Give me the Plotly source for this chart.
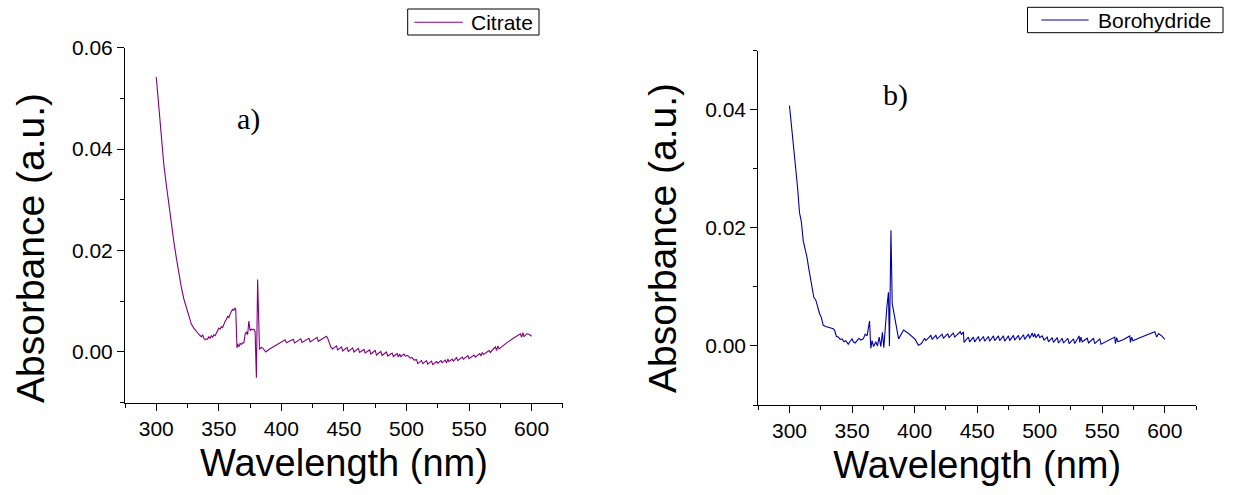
import plotly.graph_objects as go

# ---------------- data ----------------
cit_wl = [300, 302, 304, 306, 308, 310, 312, 314, 316, 318, 320, 322, 324, 326, 328,
          330, 332, 334, 336, 337, 338, 339, 340, 341, 342, 343, 344, 345, 346, 347,
          348, 349, 350, 351, 352, 353, 354, 355, 356, 357, 358, 359, 360, 361, 362,
          363, 363.5, 364.5, 365, 366, 367, 368, 369, 370, 371, 372, 373, 374, 375,
          376, 377, 378, 379, 380, 381, 382.5, 384, 385, 387.5, 390, 395, 400, 403,
          404, 409.5, 410.5, 415.5, 416.5, 422, 423, 428.5, 429.5, 436, 437, 439.5,
          441, 444, 445, 448, 449, 452.5, 453.5, 457, 458, 461.5, 462.5, 466, 467,
          470.5, 471.5, 475, 476, 479.5, 480.5, 484, 485, 488.5, 489.5, 492.5, 493.5,
          494.5, 495.5, 498, 499, 501, 503, 504.5, 506, 508, 509, 512, 513, 516, 517,
          520, 521, 524, 525, 527.5, 528.5, 531, 532, 533, 534, 536.5, 537.5, 540,
          541, 544.5, 545.5, 549, 550, 554, 555, 558.5, 559.5, 560.5, 561.5, 566, 567,
          571, 572, 573, 574, 580, 586, 591, 592, 593, 594, 596, 598, 600]
cit_abs = [0.0542, 0.0480, 0.0420, 0.0370, 0.0330, 0.0290, 0.0252, 0.0218, 0.0186, 0.0155,
           0.0128, 0.0105, 0.0088, 0.0072, 0.0055, 0.0047, 0.0040, 0.0035, 0.0030, 0.0034,
           0.0027, 0.0024, 0.0026, 0.0025, 0.0030, 0.0027, 0.0032, 0.0029, 0.0034, 0.0032,
           0.0037, 0.0044, 0.0047, 0.0045, 0.0050, 0.0048, 0.0056, 0.0060, 0.0064, 0.0070,
           0.0068, 0.0075, 0.0080, 0.0084, 0.0082, 0.0087, 0.0084, 0.0008, 0.0016, 0.0010,
           0.0017, 0.0015, 0.0018, 0.0018, 0.0035, 0.0040, 0.0034, 0.0061, 0.0042, 0.0045,
           0.0044, 0.0045, 0.0040, -0.0051, 0.0143, 0.0005, 0.0009, 0.0008, 0.0000, 0.0005,
           0.0012, 0.0019, 0.0024, 0.0018, 0.0025, 0.0018, 0.0026, 0.0019, 0.0027, 0.0020,
           0.0029, 0.0021, 0.0031, 0.0027, 0.0010, 0.0006, 0.0012, 0.0004, 0.0010, 0.0002,
           0.0009, 0.0001, 0.0008, 0.0000, 0.0007, -0.0001, 0.0005, -0.0002, 0.0004, -0.0004,
           0.0003, -0.0006, 0.0001, -0.0007, 0.0000, -0.0008, -0.0002, -0.0009, -0.0003,
           -0.0010, -0.0004, -0.0009, -0.0004, -0.0008, -0.0007, -0.0012, -0.0011, -0.0016,
           -0.0015, -0.0023, -0.0017, -0.0023, -0.0017, -0.0024, -0.0018, -0.0025, -0.0019,
           -0.0022, -0.0017, -0.0021, -0.0016, -0.0022, -0.0014, -0.0019, -0.0014, -0.0018,
           -0.0011, -0.0017, -0.0010, -0.0014, -0.0007, -0.0013, -0.0006, -0.0010, -0.0003,
           -0.0008, -0.0001, -0.0005, 0.0003, -0.0001, 0.0010, 0.0003, 0.0012, 0.0006,
           0.0018, 0.0028, 0.0036, 0.0029, 0.0038, 0.0030, 0.0036, 0.0035, 0.0031]

bor_wl = [300, 302, 303.5, 305, 306.5, 308, 309.5, 311, 312.5, 314, 315.5, 317, 318.5,
          319.5, 321, 322.5, 324, 325.5, 327, 329, 331, 333, 335, 336, 337.5, 339, 340.5,
          342, 343.5, 345, 347, 348.5, 350, 351, 352.5, 354, 355.5, 357, 359, 360.5, 362,
          364, 365, 366, 367.2, 369, 370.3, 371.7, 373, 374.3, 375.4, 377.8, 379.1, 379.9,
          381.1, 382.1, 387.2, 391.2, 395.2, 400.5, 403, 405.5, 408, 409, 413, 414, 417,
          418, 422, 423, 426.5, 427.5, 431, 432, 436.5, 437.5, 439, 439.5, 443, 444, 447,
          448, 451, 452, 455, 456, 459, 460, 463, 464, 467, 468, 471, 472, 475, 476, 479,
          480, 483, 484, 487, 488, 491, 492, 494, 495, 496, 497, 499, 500, 502, 503.5, 506,
          507, 510, 511, 514, 515, 518, 519, 522.5, 523.5, 527, 528, 531.5, 532, 533, 534,
          538, 539, 543, 544, 548, 549, 555, 560, 560.5, 561.5, 562.5, 567, 572, 572.5,
          573.5, 574.5, 580, 586, 592, 593.5, 595, 597.5, 600]
bor_abs = [0.0407, 0.0365, 0.0340, 0.0300, 0.0268, 0.0226, 0.0210, 0.0178, 0.0165, 0.0150,
           0.0130, 0.0112, 0.0096, 0.0082, 0.0078, 0.0066, 0.0055, 0.0048, 0.0035, 0.0033,
           0.0032, 0.0031, 0.0029, 0.0027, 0.0016, 0.0015, 0.0011, 0.0012, 0.0007, 0.0009,
           0.0003, 0.0008, 0.0012, 0.0007, 0.0005, 0.0009, 0.0013, 0.0010, 0.0012, 0.0020,
           0.0017, 0.0042, -0.0004, 0.0009, -0.0001, 0.0007, 0.0000, 0.0015, -0.0001, 0.0023,
           -0.0003, 0.0065, 0.0091, 0.0000, 0.0196, 0.0072, 0.0012, 0.0027, 0.0021, 0.0011,
           0.0001, 0.0004, 0.0013, 0.0009, 0.0018, 0.0011, 0.0018, 0.0012, 0.0020, 0.0013,
           0.0021, 0.0014, 0.0022, 0.0015, 0.0024, 0.0019, 0.0024, 0.0006, 0.0015, 0.0007,
           0.0015, 0.0007, 0.0016, 0.0008, 0.0016, 0.0008, 0.0016, 0.0008, 0.0017, 0.0009,
           0.0017, 0.0009, 0.0017, 0.0008, 0.0017, 0.0009, 0.0018, 0.0010, 0.0018, 0.0010,
           0.0019, 0.0011, 0.0020, 0.0013, 0.0022, 0.0015, 0.0021, 0.0014, 0.0020, 0.0014,
           0.0017, 0.0010, 0.0015, 0.0007, 0.0014, 0.0006, 0.0014, 0.0005, 0.0013, 0.0005,
           0.0013, 0.0004, 0.0012, 0.0004, 0.0017, 0.0006, 0.0015, 0.0007, 0.0013, 0.0005,
           0.0013, 0.0004, 0.0012, 0.0003, 0.0010, 0.0015, 0.0004, 0.0014, 0.0007, 0.0011,
           0.0017, 0.0006, 0.0015, 0.0009, 0.0014, 0.0019, 0.0024, 0.0015, 0.0021, 0.0017,
           0.0011]

series_names = ["Citrate", "Borohydride"]
series_colors = ["#800080", "#0000A0"]
panel_labels = ["a)", "b)"]
x_title = "Wavelength (nm)"
y_title = "Absorbance (a.u.)"

# ---------------- figure ----------------
W, H = 1233, 495
SANS = "Arial, Liberation Sans, sans-serif"
SERIF = "Times New Roman, Liberation Serif, serif"

def px_x(p):
    return p / W

def px_y(p):
    return (H - p) / H

fig = go.Figure()
fig.add_trace(go.Scatter(x=cit_wl, y=cit_abs, mode="lines", name=series_names[0],
                         line=dict(color=series_colors[0], width=1.1),
                         xaxis="x", yaxis="y", showlegend=False))
fig.add_trace(go.Scatter(x=bor_wl, y=bor_abs, mode="lines", name=series_names[1],
                         line=dict(color=series_colors[1], width=1.1),
                         xaxis="x2", yaxis="y2", showlegend=False))

common_x = dict(
    range=[275, 625], tick0=300, dtick=50, ticks="outside", ticklen=7, tickwidth=1,
    tickcolor="black", showline=True, linecolor="black", linewidth=1,
    showgrid=False, zeroline=False, automargin=False,
    tickfont=dict(family=SANS, size=21, color="black"),
    minor=dict(ticks="outside", ticklen=4, dtick=25, tick0=275, tickcolor="black", showgrid=False),
    title=dict(text=x_title, font=dict(family=SANS, size=38, color="black"), standoff=10),
)
common_y = dict(
    tick0=0, dtick=0.02, tickformat=".2f", ticks="outside", ticklen=7, tickwidth=1,
    tickcolor="black", showline=True, linecolor="black", linewidth=1,
    showgrid=False, zeroline=False, automargin=False,
    tickfont=dict(family=SANS, size=21, color="black"),
    minor=dict(ticks="outside", ticklen=4, dtick=0.01, tick0=0, tickcolor="black", showgrid=False),
)

# legends drawn as boxes with a line sample and real text
legend_boxes = [
    dict(x0=407.7, x1=539, y0=9, y1=35, lx0=414.3, lx1=462.7, ly=22.3, tx=469),
    dict(x0=1027.5, x1=1223, y0=7.3, y1=32.7, lx0=1041.4, lx1=1088.6, ly=20, tx=1095.5),
]
shapes = []
annotations = []
for i, b in enumerate(legend_boxes):
    shapes.append(dict(type="rect", xref="paper", yref="paper",
                       x0=px_x(b["x0"]), x1=px_x(b["x1"]), y0=px_y(b["y1"]), y1=px_y(b["y0"]),
                       line=dict(color="black", width=1), fillcolor="white", layer="above"))
    shapes.append(dict(type="line", xref="paper", yref="paper",
                       x0=px_x(b["lx0"]), x1=px_x(b["lx1"]), y0=px_y(b["ly"]), y1=px_y(b["ly"]),
                       line=dict(color=series_colors[i], width=1.1), layer="above"))
    annotations.append(dict(text=series_names[i], x=px_x(b["tx"]), y=px_y(b["ly"] + 0.5),
                            xref="paper", yref="paper", xanchor="left", yanchor="middle",
                            showarrow=False, font=dict(family=SANS, size=21, color="black")))

# panel labels
annotations.append(dict(text=panel_labels[0], x=px_x(248), y=px_y(119), xref="paper", yref="paper",
                        xanchor="center", yanchor="middle", showarrow=False,
                        font=dict(family=SERIF, size=30, color="black")))
annotations.append(dict(text=panel_labels[1], x=px_x(895), y=px_y(95), xref="paper", yref="paper",
                        xanchor="center", yanchor="middle", showarrow=False,
                        font=dict(family=SERIF, size=30, color="black")))
# y-axis titles
annotations.append(dict(text=y_title, x=px_x(30), y=px_y(248), xref="paper", yref="paper",
                        xanchor="center", yanchor="middle", textangle=-90, showarrow=False,
                        font=dict(family=SANS, size=39, color="black")))
annotations.append(dict(text=y_title, x=px_x(662), y=px_y(238), xref="paper", yref="paper",
                        xanchor="center", yanchor="middle", textangle=-90, showarrow=False,
                        font=dict(family=SANS, size=39, color="black")))

fig.update_layout(
    width=W, height=H,
    margin=dict(l=0, r=0, t=0, b=0, autoexpand=False),
    paper_bgcolor="white", plot_bgcolor="white",
    xaxis=dict(common_x, domain=[px_x(125), px_x(562.9)], anchor="y"),
    yaxis=dict(common_y, range=[-0.01, 0.06], domain=[px_y(402.7), px_y(47.7)], anchor="x"),
    xaxis2=dict(common_x, domain=[px_x(758.2), px_x(1196.1)], anchor="y2"),
    yaxis2=dict(common_y, range=[-0.01, 0.05], domain=[px_y(405), px_y(50.7)], anchor="x2"),
    showlegend=False,
    shapes=shapes,
    annotations=annotations,
)

fig.write_html("out.html")
